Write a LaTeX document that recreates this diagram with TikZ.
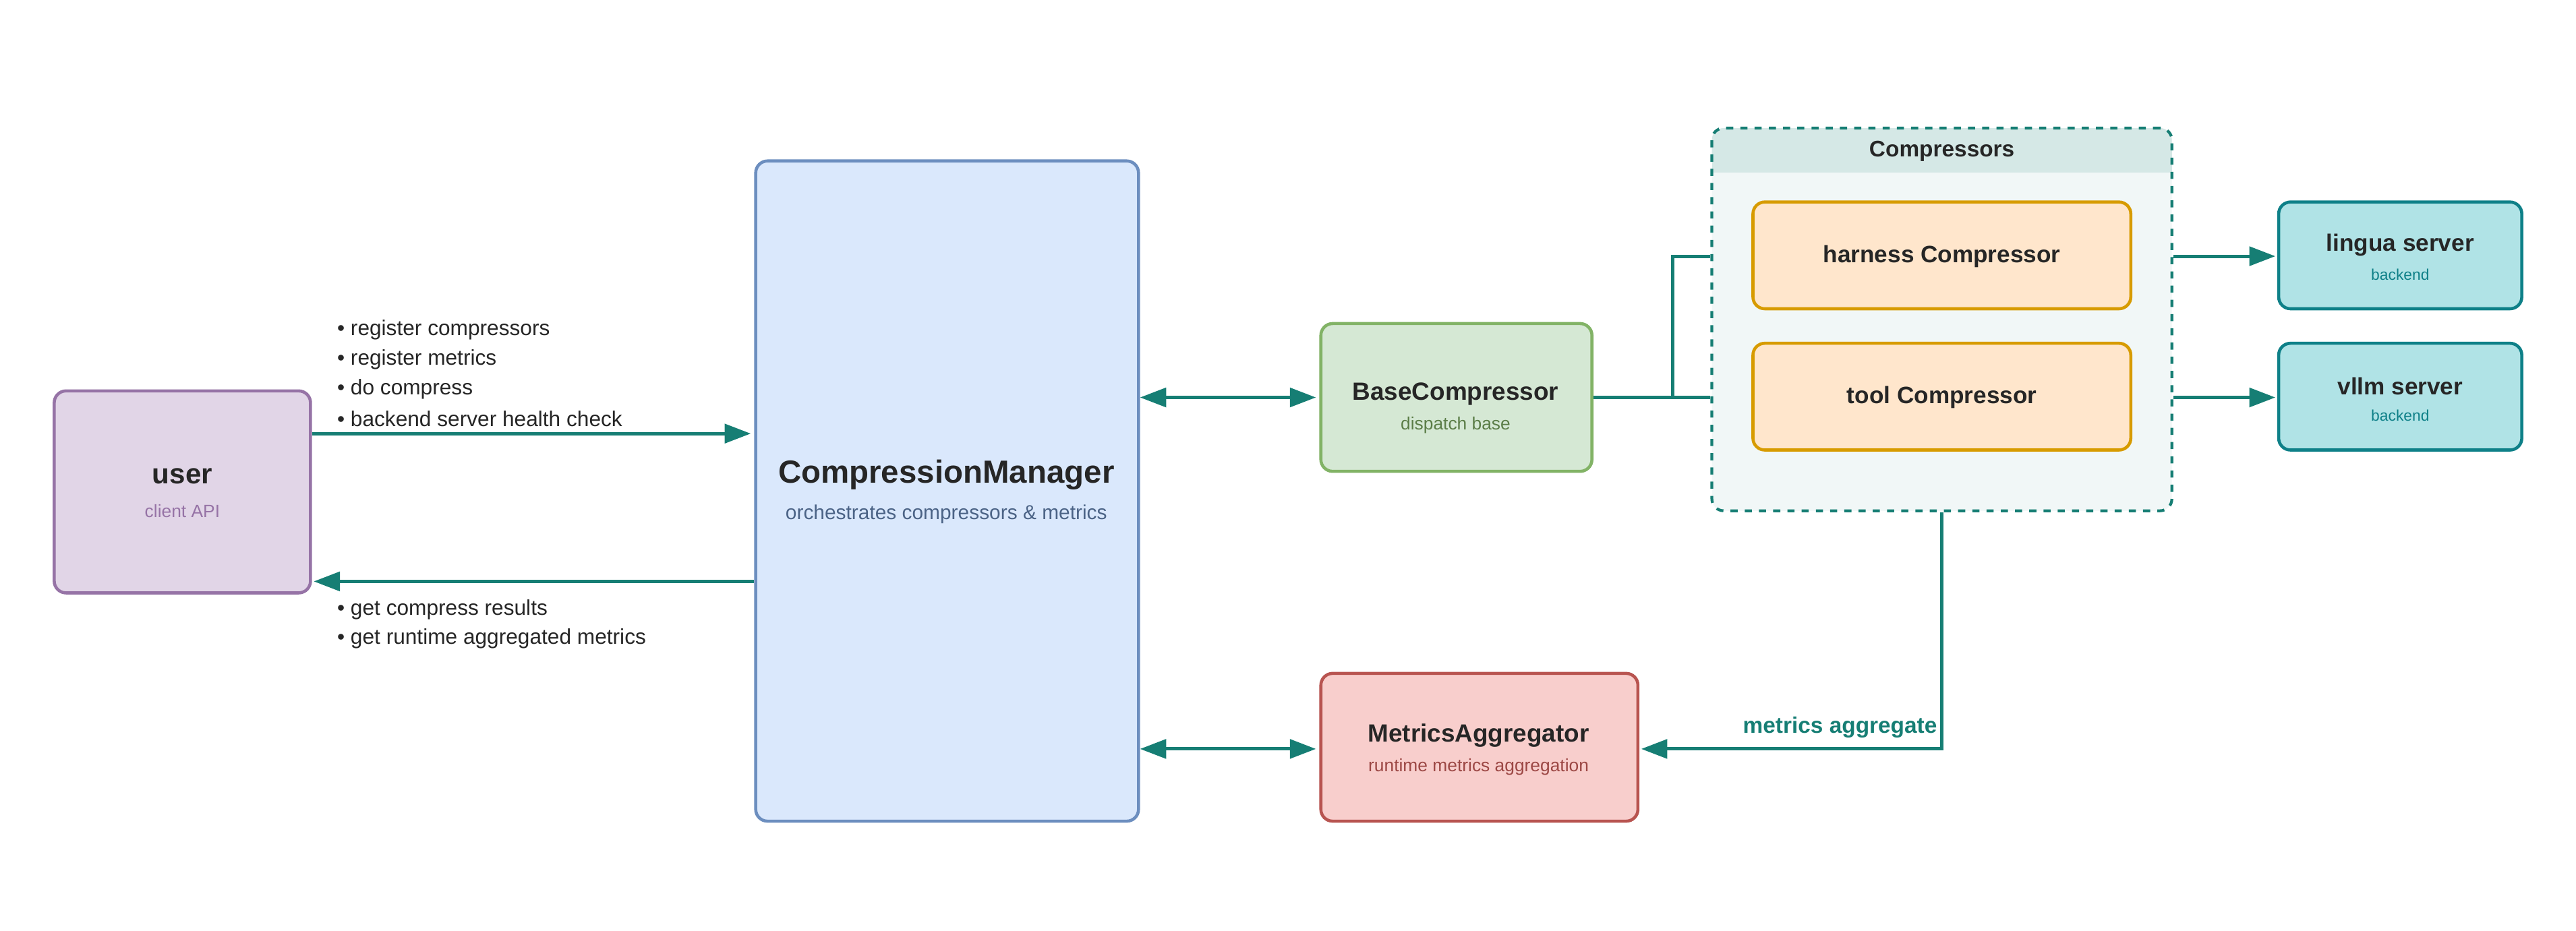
\documentclass[tikz,border=0pt]{standalone}
\usepackage{fontspec}
\setmainfont{Liberation Sans}
\usetikzlibrary{arrows.meta,calc}
\definecolor{tl}{HTML}{167E74}
\tikzset{
 bx/.style={draw,line width=1.3pt,rounded corners=5pt,inner sep=0pt},
 ar/.style={draw=tl,line width=1.4pt,-{Triangle[length=11pt,width=8pt]}},
 dar/.style={draw=tl,line width=1.4pt,{Triangle[length=11pt,width=8pt]}-{Triangle[length=11pt,width=8pt]}},
 ln/.style={draw=tl,line width=1.4pt},
 bul/.style={anchor=west,font=\fontsize{9}{11}\selectfont,text=black!85,inner sep=0pt},
}
\newcommand{\bxat}[7]{% name x1 y1 x2 y2 fill draw
 \node[bx,fill=#6,draw=#7,minimum width=#4*0.02436cm-#2*0.02436cm,minimum height=#5*0.02436cm-#3*0.02436cm] (#1) at ({(#2+#4)/2},{(#3+#5)/2}) {};}
\begin{document}
\begin{tikzpicture}[x=0.02436cm,y=-0.02436cm]
\useasboundingbox[fill=white] (0,0) rectangle (1568,566.5);
\definecolor{a}{HTML}{E1D5E7}\definecolor{as}{HTML}{9673A6}
\definecolor{b}{HTML}{DAE8FC}\definecolor{bs}{HTML}{6C8EBF}
\definecolor{c}{HTML}{D5E8D4}\definecolor{cs}{HTML}{82B366}
\definecolor{d}{HTML}{F8CECC}\definecolor{ds}{HTML}{B85450}
\definecolor{e}{HTML}{FFE6CC}\definecolor{es}{HTML}{D79B00}
\definecolor{f}{HTML}{B0E3E6}\definecolor{fs}{HTML}{0E8088}
% group
\fill[fill=tl!6,rounded corners=5pt] (1042,78) rectangle (1322,311);
\fill[fill=tl!18,rounded corners=5pt] (1042,78) rectangle (1322,105);
\fill[fill=tl!18] (1042,90) rectangle (1322,105);
\node[draw=tl,dashed,line width=1.2pt,rounded corners=5pt,minimum width=280*0.02436cm,minimum height=233*0.02436cm] (grp) at (1182,194.5) {};
\node[font=\bfseries\fontsize{9.5}{11}\selectfont,text=black!85] (grpt) at (1182,92) {Compressors};
\bxat{user}{33}{238}{189}{361}{a}{as}
\bxat{cm}{460}{98}{693}{500}{b}{bs}
\bxat{base}{804}{197}{969}{287}{c}{cs}
\bxat{met}{804}{410}{997}{500}{d}{ds}
\bxat{har}{1067}{123}{1297}{188}{e}{es}
\bxat{tool}{1067}{209}{1297}{274}{e}{es}
\bxat{lin}{1387}{123}{1535}{188}{f}{fs}
\bxat{vll}{1387}{209}{1535}{274}{f}{fs}
\node[font=\bfseries\fontsize{12}{14}\selectfont,text=black!85] (ut) at (111,290) {user};
\node[font=\fontsize{7.5}{9}\selectfont,text=as] (us) at (111,311) {client API};
\node[font=\bfseries\fontsize{13.5}{16}\selectfont,text=black!85] (cmt) at (576,289) {CompressionManager};
\node[font=\fontsize{8.5}{10}\selectfont,text=bs!70!black] (cms) at (576,313) {orchestrates compressors \& metrics};
\node[font=\bfseries\fontsize{10.5}{12}\selectfont,text=black!85] (bt) at (886,240) {BaseCompressor};
\node[font=\fontsize{7.5}{9}\selectfont,text=cs!70!black] (bs) at (886,259) {dispatch base};
\node[font=\bfseries\fontsize{10.5}{12}\selectfont,text=black!85] (mt) at (900,448) {MetricsAggregator};
\node[font=\fontsize{7.5}{9}\selectfont,text=ds!85!black] (ms) at (900,467) {runtime metrics aggregation};
\node[font=\bfseries\fontsize{10}{12}\selectfont,text=black!85] (ht) at (1182,156) {harness Compressor};
\node[font=\bfseries\fontsize{10}{12}\selectfont,text=black!85] (tt) at (1182,242) {tool Compressor};
\node[font=\bfseries\fontsize{10}{12}\selectfont,text=black!85] (lt) at (1461,149) {lingua server};
\node[font=\fontsize{6.5}{8}\selectfont,text=fs] (ls) at (1461,167) {backend};
\node[font=\bfseries\fontsize{10}{12}\selectfont,text=black!85] (vt) at (1461,235) {vllm server};
\node[font=\fontsize{6.5}{8}\selectfont,text=fs] (vs) at (1461,253) {backend};
% bullets
\node[bul] (b1) at (205,201) {• register compressors};
\node[bul] (b2) at (205,219) {• register metrics};
\node[bul] (b3) at (205,237) {• do compress};
\node[bul] (b4) at (205,255) {• backend server health check};
\node[bul] (b5) at (205,371) {• get compress results};
\node[bul] (b6) at (205,389) {• get runtime aggregated metrics};
% connectors
\draw[ar] (user.east |- 0,264) -- (457,264);
\draw[ar] (cm.west |- 0,354) -- (191,354);
\draw[dar] (cm.east |- 0,242) -- (801,242);
\draw[dar] (cm.east |- 0,456) -- (801,456);
\coordinate (j) at (1018,242);
\draw[ln] (base.east) -- (j) -- (grp.west |- j);
\draw[ln] (j) |- (grp.west |- 0,156);
\draw[ar] (grp.east |- 0,156) -- (1385,156);
\draw[ar] (grp.east |- 0,242) -- (1385,242);
\draw[ar] (grp.south) |- (999,456);
\node[font=\bfseries\fontsize{9.5}{11}\selectfont,text=tl] (mal) at (1120,443) {metrics aggregate};
\end{tikzpicture}
\end{document}
